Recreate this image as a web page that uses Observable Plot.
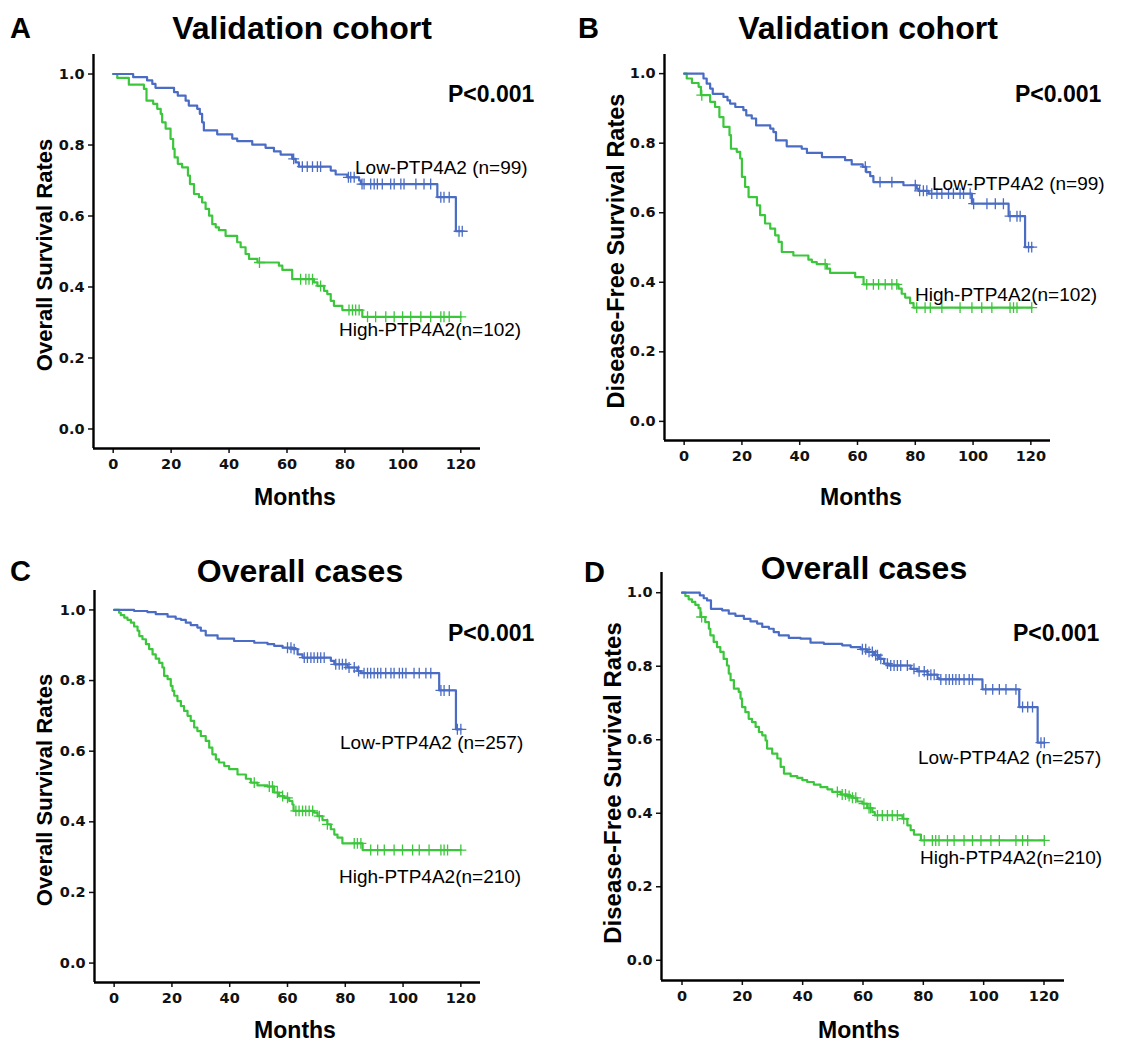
<!DOCTYPE html>
<html>
<head>
<meta charset="utf-8">
<script src="https://cdn.jsdelivr.net/npm/d3@7"></script>
<script src="https://cdn.jsdelivr.net/npm/@observablehq/plot@0.6"></script>
<style>
  body { margin: 0; background: #fff; }
  #page { position: relative; width: 1133px; height: 1044px; overflow: hidden; background: #fff;
          font-family: "Liberation Sans", Arial, sans-serif; color: #000; }
  .t { position: absolute; white-space: nowrap; line-height: 1; }
  .b { font-weight: bold; }
  .panel { position: absolute; }
  .panel svg text { font-family: "DejaVu Sans", Verdana, sans-serif !important; font-weight: bold !important; font-size: 14.5px !important; fill: #111 !important; }
</style>
</head>
<body>
<div id="page"></div>
<script>
// ---------- tick values ----------
const monthTicks = [0, 20, 40, 60, 80, 100, 120];
const rateTicks = [0, 0.2, 0.4, 0.6, 0.8, 1.0];

// ---------- Panel A: Validation cohort, overall survival ----------
const aLowTime = [0, 6.9, 11.7, 13.5, 14.6, 21.0, 22.3, 25.0, 26.1, 29.0, 29.9, 30.7, 31.3, 35.9, 41.1, 42.8, 48.0, 52.6, 55.5, 57.8, 61.8, 63.0, 64.1, 75.1, 76.8, 80.8, 84.9, 85.5, 111.9, 118.3];
const aLowSurv = [1, 0.991, 0.982, 0.972, 0.961, 0.949, 0.939, 0.925, 0.911, 0.902, 0.888, 0.864, 0.841, 0.830, 0.818, 0.811, 0.801, 0.792, 0.782, 0.773, 0.761, 0.751, 0.739, 0.728, 0.717, 0.709, 0.700, 0.690, 0.653, 0.557];
const aLowCensor = [62.3, 65.3, 67.0, 68.8, 70.5, 71.6, 81.2, 82.0, 83.2, 85.9, 86.6, 88.9, 90.1, 91.2, 92.9, 95.8, 97.0, 99.3, 100.4, 104.5, 107.3, 109.6, 113.1, 114.2, 116.0, 119.4, 120.5];
const aHighTime = [0, 1.4, 5.4, 10.6, 11.5, 13.8, 15.2, 16.4, 16.9, 18.1, 19.8, 20.7, 21.2, 22.3, 23.8, 25.8, 26.5, 27.9, 29.6, 30.7, 31.9, 33.1, 34.2, 35.4, 36.5, 38.8, 42.8, 44.0, 45.7, 46.9, 49.8, 57.2, 58.4, 61.8, 69.3, 70.5, 72.8, 73.9, 75.1, 76.2, 79.1, 86.0];
const aHighSurv = [1, 0.989, 0.970, 0.958, 0.925, 0.916, 0.902, 0.888, 0.864, 0.846, 0.817, 0.789, 0.765, 0.747, 0.737, 0.714, 0.690, 0.662, 0.653, 0.638, 0.620, 0.601, 0.577, 0.568, 0.560, 0.544, 0.526, 0.512, 0.493, 0.479, 0.469, 0.460, 0.448, 0.422, 0.413, 0.403, 0.389, 0.380, 0.361, 0.347, 0.335, 0.316];
const aHighCensor = [50.5, 64.7, 66.5, 67.6, 68.8, 71.6, 81.4, 82.6, 83.7, 84.9, 87.8, 90.6, 94.1, 97.0, 99.9, 102.7, 106.2, 109.6, 113.1, 114.2, 116.0, 120.0];

// ---------- Panel B: Validation cohort, disease-free survival ----------
const bLowTime = [0, 6.7, 7.8, 9.0, 9.9, 13.6, 15.0, 15.9, 17.7, 20.5, 21.5, 23.4, 24.9, 29.8, 30.9, 31.8, 35.5, 40.7, 42.5, 47.7, 55.7, 58.0, 61.8, 63.0, 64.4, 65.5, 75.9, 80.5, 81.1, 84.6, 99.6, 112.3, 118.0];
const bLowSurv = [1, 0.986, 0.971, 0.957, 0.942, 0.933, 0.923, 0.914, 0.904, 0.895, 0.880, 0.871, 0.851, 0.842, 0.832, 0.808, 0.791, 0.784, 0.772, 0.760, 0.751, 0.739, 0.732, 0.717, 0.705, 0.688, 0.679, 0.669, 0.663, 0.655, 0.626, 0.590, 0.501];
const bLowCensor = [62.7, 67.8, 71.9, 80.0, 81.5, 82.8, 84.0, 85.7, 87.5, 89.2, 91.5, 93.2, 95.5, 96.7, 99.0, 100.2, 104.8, 107.7, 110.5, 112.8, 115.2, 116.3, 119.2, 120.3];
const bHighTime = [0, 0.9, 2.7, 5.0, 5.8, 9.0, 10.7, 12.2, 13.6, 15.7, 16.2, 18.2, 19.4, 20.0, 21.1, 22.3, 25.2, 26.3, 28.0, 29.8, 31.5, 32.7, 33.8, 37.8, 43.0, 44.2, 45.9, 49.4, 50.5, 59.2, 62.1, 74.2, 75.3, 76.5, 78.2, 79.4];
const bHighSurv = [1, 0.986, 0.973, 0.962, 0.938, 0.919, 0.904, 0.875, 0.847, 0.823, 0.784, 0.775, 0.756, 0.703, 0.674, 0.645, 0.621, 0.593, 0.569, 0.554, 0.535, 0.516, 0.487, 0.477, 0.465, 0.458, 0.452, 0.439, 0.427, 0.415, 0.394, 0.382, 0.367, 0.356, 0.340, 0.327];
const bHighCensor = [6.1, 48.8, 63.2, 65.5, 67.3, 69.6, 71.9, 73.6, 80.5, 83.4, 85.2, 89.2, 95.5, 99.6, 103.0, 106.5, 112.8, 114.0, 115.2, 120.3];

// ---------- Panel C: Overall cases, overall survival ----------
const cLowTime = [0, 6.9, 11.5, 14.4, 18.5, 21.3, 23.1, 24.8, 26.5, 28.8, 30.0, 31.7, 35.8, 41.5, 48.5, 53.1, 55.4, 58.3, 61.7, 63.5, 65.2, 75.0, 76.2, 80.8, 84.2, 85.4, 112.5, 118.3];
const cLowSurv = [1, 0.997, 0.994, 0.988, 0.981, 0.975, 0.972, 0.964, 0.957, 0.950, 0.941, 0.928, 0.919, 0.912, 0.907, 0.903, 0.898, 0.893, 0.889, 0.874, 0.865, 0.856, 0.846, 0.837, 0.827, 0.821, 0.772, 0.662];
const cLowCensor = [60.0, 61.2, 62.3, 65.8, 66.9, 68.1, 69.2, 70.4, 71.5, 72.7, 76.7, 77.9, 79.0, 80.2, 81.3, 83.1, 84.6, 86.5, 87.7, 88.8, 90.0, 91.2, 92.3, 94.0, 95.8, 96.9, 98.7, 99.8, 101.0, 103.8, 105.6, 107.9, 109.6, 113.1, 114.2, 116.0, 118.8, 120.0];
const cHighTime = [0, 1.7, 2.3, 3.5, 4.6, 5.8, 6.9, 8.1, 8.7, 9.8, 11.0, 12.1, 13.3, 14.4, 15.6, 16.7, 17.3, 18.5, 19.6, 20.2, 20.8, 21.9, 23.1, 24.2, 25.4, 26.5, 27.7, 28.8, 30.0, 31.7, 32.9, 34.0, 35.2, 36.3, 38.1, 39.8, 42.7, 45.6, 47.3, 49.6, 53.1, 55.4, 57.1, 58.8, 60.6, 61.7, 62.1, 69.2, 70.4, 72.1, 73.8, 75.0, 76.2, 77.3, 79.0, 86.0];
const cHighSurv = [1, 0.992, 0.985, 0.978, 0.972, 0.964, 0.953, 0.941, 0.926, 0.917, 0.903, 0.889, 0.874, 0.862, 0.850, 0.837, 0.813, 0.804, 0.785, 0.771, 0.757, 0.742, 0.728, 0.714, 0.700, 0.686, 0.667, 0.657, 0.643, 0.629, 0.610, 0.591, 0.577, 0.568, 0.558, 0.549, 0.534, 0.522, 0.511, 0.503, 0.500, 0.483, 0.473, 0.468, 0.459, 0.449, 0.431, 0.426, 0.416, 0.405, 0.393, 0.379, 0.364, 0.355, 0.339, 0.320];
const cHighCensor = [48.5, 53.7, 54.8, 56.5, 58.3, 60.0, 62.9, 64.0, 65.2, 66.3, 67.5, 68.7, 71.0, 73.8, 83.1, 84.2, 85.4, 88.8, 91.2, 93.5, 96.9, 99.8, 103.3, 105.6, 109.0, 113.1, 114.2, 115.4, 120.0];

// ---------- Panel D: Overall cases, disease-free survival ----------
const dLowTime = [0, 5.9, 7.2, 8.3, 9.6, 13.3, 15.5, 17.7, 20.5, 22.7, 24.9, 26.6, 28.8, 30.4, 32.1, 35.4, 39.3, 42.6, 47.0, 53.1, 55.9, 59.2, 61.4, 63.7, 65.3, 67.0, 68.6, 75.8, 78.0, 81.4, 84.7, 85.2, 99.6, 111.8, 117.9];
const dLowSurv = [1, 0.993, 0.985, 0.979, 0.956, 0.952, 0.943, 0.937, 0.929, 0.922, 0.916, 0.907, 0.902, 0.893, 0.884, 0.877, 0.875, 0.864, 0.861, 0.857, 0.852, 0.846, 0.839, 0.830, 0.820, 0.807, 0.802, 0.793, 0.786, 0.777, 0.768, 0.764, 0.737, 0.689, 0.592];
const dLowCensor = [59.8, 60.9, 62.0, 63.1, 64.2, 64.8, 65.9, 68.1, 69.2, 70.3, 71.4, 72.5, 74.7, 76.9, 78.6, 80.3, 81.4, 82.5, 83.6, 85.8, 87.5, 88.6, 89.7, 90.8, 91.9, 93.5, 95.2, 96.3, 100.7, 103.0, 105.2, 107.4, 110.7, 112.9, 114.6, 116.2, 119.0, 120.1];
const dHighTime = [0, 1.1, 2.2, 3.3, 4.4, 5.5, 6.1, 7.7, 8.9, 9.4, 10.5, 11.6, 12.7, 13.8, 14.9, 15.5, 16.1, 17.2, 18.8, 19.4, 19.9, 21.0, 22.1, 23.2, 24.4, 25.5, 26.6, 27.7, 28.2, 29.9, 31.6, 32.7, 33.8, 36.0, 38.2, 39.9, 41.5, 43.7, 45.9, 48.2, 49.8, 52.6, 54.8, 56.5, 58.1, 59.8, 61.4, 63.1, 63.9, 73.1, 74.7, 75.8, 76.9, 79.2];
const dHighSurv = [1, 0.991, 0.982, 0.975, 0.967, 0.958, 0.934, 0.920, 0.902, 0.884, 0.866, 0.852, 0.839, 0.820, 0.802, 0.780, 0.762, 0.739, 0.730, 0.712, 0.689, 0.675, 0.657, 0.648, 0.635, 0.621, 0.612, 0.598, 0.576, 0.562, 0.549, 0.526, 0.508, 0.501, 0.496, 0.490, 0.485, 0.478, 0.471, 0.465, 0.458, 0.451, 0.447, 0.442, 0.432, 0.426, 0.414, 0.403, 0.394, 0.385, 0.367, 0.354, 0.342, 0.326];
const dHighCensor = [6.5, 51.5, 53.1, 54.2, 55.4, 56.5, 57.6, 60.3, 62.0, 62.5, 64.8, 66.4, 68.1, 69.7, 71.4, 73.5, 80.3, 83.0, 84.1, 85.2, 88.0, 90.2, 93.5, 96.3, 99.1, 102.4, 105.2, 110.7, 112.9, 114.6, 120.1];

// ---------- text ----------
const lowLabels = ["Low-PTP4A2 (n=99)", "Low-PTP4A2 (n=99)", "Low-PTP4A2 (n=257)", "Low-PTP4A2 (n=257)"];
const highLabels = ["High-PTP4A2(n=102)", "High-PTP4A2(n=102)", "High-PTP4A2(n=210)", "High-PTP4A2(n=210)"];
const titles = ["Validation cohort", "Validation cohort", "Overall cases", "Overall cases"];
const letters = ["A", "B", "C", "D"];
const yLabels = ["Overall Survival Rates", "Disease-Free Survival Rates", "Overall Survival Rates", "Disease-Free Survival Rates"];
const xLabel = "Months";
const pText = "P<0.001";

const BLUE = "#4a6cc4";
const GREEN = "#3cc63c";
const X_DOMAIN = [-6.8, 126.8];
const Y_DOMAIN = [-0.055, 1.055];

function stepPoints(times, surv, censor) {
  const end = Math.max(times[times.length - 1], d3.max(censor));
  const pts = times.map((t, i) => ({t, s: surv[i]}));
  pts.push({t: end, s: surv[surv.length - 1]});
  return pts;
}
function censorPoints(times, surv, censor) {
  return censor.map(t => {
    let v = surv[0];
    for (let i = 0; i < times.length; i++) if (times[i] <= t) v = surv[i];
    return {t, s: v};
  });
}

const page = document.getElementById("page");
function addText(str, x, y, cls, size, anchor, rotate) {
  const el = document.createElement("div");
  el.className = "t " + cls;
  el.textContent = str;
  el.style.left = x + "px";
  el.style.top = y + "px";
  el.style.fontSize = size + "px";
  const tx = anchor === "middle" ? "-50%" : "0";
  el.style.transform = rotate ? "translate(-50%, -50%) rotate(-90deg)" : `translate(${tx}, -50%)`;
  page.appendChild(el);
}

// pixel frames of each panel (left/right = x-domain ends, top/bottom = y-domain ends)
const panels = [
  {frame: [93, 479.7, 54.0, 447.5], low: [aLowTime, aLowSurv, aLowCensor], high: [aHighTime, aHighSurv, aHighCensor],
   letter: [10, 28], title: [302, 28], ylab: [45, 255], ylabSize: 22, xlab: [295, 497], p: [448, 94], lowPos: [355, 167], highPos: [339, 329]},
  {frame: [664.3, 1050.7, 54.2, 440.1], low: [bLowTime, bLowSurv, bLowCensor], high: [bHighTime, bHighSurv, bHighCensor],
   letter: [578, 28], title: [868, 28], ylab: [617, 251], ylabSize: 23.5, xlab: [861, 497], p: [1015, 94], lowPos: [932, 183], highPos: [915, 294]},
  {frame: [93.7, 479.6, 589.6, 981.4], low: [cLowTime, cLowSurv, cLowCensor], high: [cHighTime, cHighSurv, cHighCensor],
   letter: [10, 571], title: [300, 571], ylab: [45, 790], ylabSize: 22, xlab: [295, 1030], p: [448, 633], lowPos: [340, 742], highPos: [339, 876]},
  {frame: [661.0, 1063.5, 572.3, 980.2], low: [dLowTime, dLowSurv, dLowCensor], high: [dHighTime, dHighSurv, dHighCensor],
   letter: [584, 572], title: [864, 568], ylab: [613, 783], ylabSize: 24, xlab: [859, 1030], p: [1013, 633], lowPos: [918, 757], highPos: [920, 857]}
];

panels.forEach((p, k) => {
  const [l, r, t, b] = p.frame;
  const mL = 60, mR = 12, mT = 10, mB = 40;
  const w = Math.round(r - l) + mL + mR;
  const h = Math.round(b - t) + mT + mB;
  const svg = Plot.plot({
    width: w, height: h,
    marginLeft: mL, marginRight: mR, marginTop: mT, marginBottom: mB,
    x: {domain: X_DOMAIN},
    y: {domain: Y_DOMAIN},
    style: {fontFamily: "DejaVu Sans", fontWeight: "bold", fontSize: "14.5px", color: "#111", background: "transparent", overflow: "visible"},
    marks: [
      Plot.axisX(monthTicks, {tickSize: 5, tickPadding: 5, label: null, tickFormat: d => String(d), strokeWidth: 1.5}),
      Plot.axisY(rateTicks, {tickSize: 5, tickPadding: 4, label: null, tickFormat: d3.format(".1f"), strokeWidth: 1.5}),
      Plot.ruleX([X_DOMAIN[0]], {stroke: "#000", strokeWidth: 2.4}),
      Plot.ruleY([Y_DOMAIN[0]], {stroke: "#000", strokeWidth: 2.4}),
      Plot.line(stepPoints(...p.high), {x: "t", y: "s", curve: "step-after", stroke: GREEN, strokeWidth: 2.2}),
      Plot.dot(censorPoints(...p.high), {x: "t", y: "s", symbol: "plus", r: 3.6, stroke: GREEN, fill: "none", strokeWidth: 1.3}),
      Plot.line(stepPoints(...p.low), {x: "t", y: "s", curve: "step-after", stroke: BLUE, strokeWidth: 2.2}),
      Plot.dot(censorPoints(...p.low), {x: "t", y: "s", symbol: "plus", r: 3.6, stroke: BLUE, fill: "none", strokeWidth: 1.3})
    ]
  });
  const holder = document.createElement("div");
  holder.className = "panel";
  holder.style.left = (l - mL) + "px";
  holder.style.top = (t - mT) + "px";
  holder.style.width = w + "px";
  holder.style.height = h + "px";
  holder.appendChild(svg);
  page.appendChild(holder);

  addText(letters[k], p.letter[0], p.letter[1], "b", 29, "left");
  addText(titles[k], p.title[0], p.title[1], "b", 32, "middle");
  addText(yLabels[k], p.ylab[0], p.ylab[1], "b", p.ylabSize, "middle", true);
  addText(xLabel, p.xlab[0], p.xlab[1], "b", 23, "middle");
  addText(pText, p.p[0], p.p[1], "b", 23, "left");
  addText(lowLabels[k], p.lowPos[0], p.lowPos[1], "", 19, "left");
  addText(highLabels[k], p.highPos[0], p.highPos[1], "", 19, "left");
});
</script>
</body>
</html>
